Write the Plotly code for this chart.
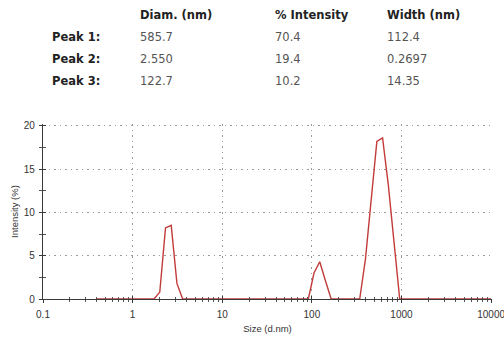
import plotly.graph_objects as go

# Size bins (d.nm) of the intensity distribution
sizes = [0.4, 0.4632, 0.5365, 0.6213, 0.7195, 0.8332, 0.9649, 1.117, 1.294, 1.499,
         1.736, 2.010, 2.328, 2.696, 3.122, 3.615, 4.187, 4.849, 5.615, 6.503,
         7.531, 8.721, 10.10, 11.70, 13.54, 15.69, 18.17, 21.04, 24.36, 28.21,
         32.67, 37.84, 43.82, 50.75, 58.77, 68.06, 78.82, 91.28, 105.7, 122.4,
         141.8, 164.2, 190.1, 220.2, 255.0, 295.3, 342.0, 396.1, 458.7, 531.2,
         615.1, 712.4, 825.0, 955.4, 1106, 1281, 1484, 1718, 1990, 2305,
         2669, 3091, 3580, 4145, 4801, 5560, 6439, 7456, 8635, 10000]

# Intensity (%) in each bin
intensity = [0, 0, 0, 0, 0, 0, 0, 0, 0, 0,
             0, 0.8, 8.2, 8.5, 1.8, 0, 0, 0, 0, 0,
             0, 0, 0, 0, 0, 0, 0, 0, 0, 0,
             0, 0, 0, 0, 0, 0, 0, 0, 3.0, 4.3,
             2.1, 0, 0, 0, 0, 0, 0, 4.6, 11.4, 18.2,
             18.6, 13.2, 6.6, 0, 0, 0, 0, 0, 0, 0,
             0, 0, 0, 0, 0, 0, 0, 0, 0, 0]

# Peak summary table
table_headers = ["Diam. (nm)", "% Intensity", "Width (nm)"]
peak_labels = ["Peak 1:", "Peak 2:", "Peak 3:"]
peak_diam = ["585.7", "2.550", "122.7"]
peak_intensity = ["70.4", "19.4", "10.2"]
peak_width = ["112.4", "0.2697", "14.35"]

x_ticks = [0.1, 1, 10, 100, 1000, 10000]
x_tick_text = ["0.1", "1", "10", "100", "1000", "10000"]
x_minor = [m * 10.0 ** e for e in range(-1, 4) for m in range(2, 10)]
y_ticks = [0, 5, 10, 15, 20]
y_minor = [2.5, 7.5, 12.5, 17.5]

W, H = 504, 338
L, R, T, B = 43, 12, 124, 39
PW, PH = W - L - R, H - T - B

AXIS_FONT = "Arial, Liberation Sans, sans-serif"
TABLE_FONT = "DejaVu Sans, Verdana, sans-serif"
LINE_RED = "#c23b3b"
GRID = "#9a9a9a"
GRID_DASH = "1.5px,4px"
AXIS_COL = "#3a3a3a"

X_RANGE = [-1, 4.01]
Y_RANGE = [0, 20.2]


def paper_x(px):
    return (px - L) / PW


def paper_y(py):
    return (H - B - py) / PH


fig = go.Figure()

fig.add_trace(go.Scatter(
    x=sizes, y=intensity, mode="lines",
    line=dict(color=LINE_RED, width=1.4),
    hoverinfo="x+y", showlegend=False,
))

# hidden trace that carries the inner half of the crossing tick marks
fig.add_trace(go.Scatter(
    x=[sizes[0]], y=[0], xaxis="x2", yaxis="y2", mode="markers",
    marker=dict(opacity=0), hoverinfo="skip", showlegend=False,
))

fig.update_layout(
    width=W, height=H,
    margin=dict(l=L, r=R, t=T, b=B),
    paper_bgcolor="white", plot_bgcolor="white",
    font=dict(family=AXIS_FONT, color="#333", size=10),
    xaxis=dict(
        type="log", range=X_RANGE, linecolor=AXIS_COL, linewidth=1.4,
        tickmode="array", tickvals=x_ticks, ticktext=x_tick_text,
        ticks="outside", ticklen=3, tickcolor=AXIS_COL, tickwidth=1,
        minor=dict(tickvals=x_minor, ticks="outside", ticklen=2, tickcolor="#555", showgrid=False),
        showgrid=True, gridcolor=GRID, griddash=GRID_DASH, gridwidth=1,
        zeroline=False, showline=True, automargin=False,
        tickfont=dict(size=10, color="#333"),
        ticklabelstandoff=3, ticklabeloverflow="allow",
        title=dict(text="Size (d.nm)", font=dict(size=9.5, color="#333"), standoff=6),
    ),
    yaxis=dict(
        range=Y_RANGE, linecolor=AXIS_COL, linewidth=1.4,
        tickmode="array", tickvals=y_ticks,
        ticks="outside", ticklen=3, tickcolor=AXIS_COL, tickwidth=1,
        minor=dict(tickvals=y_minor, ticks="outside", ticklen=3,
                   tickcolor="#555", showgrid=False),
        showgrid=True, gridcolor=GRID, griddash=GRID_DASH, gridwidth=1,
        zeroline=False, showline=True, automargin=False,
        tickfont=dict(size=10, color="#333"),
        ticklabelstandoff=2,
        title=dict(text="Intensity (%)", font=dict(size=9.5, color="#333"), standoff=3),
    ),
    xaxis2=dict(
        type="log", range=X_RANGE, overlaying="x", anchor="y2", automargin=False,
        tickmode="array", tickvals=x_ticks, ticks="inside", ticklen=3, tickcolor=AXIS_COL,
        minor=dict(tickvals=x_minor, ticks="inside", ticklen=2, tickcolor="#555", showgrid=False),
        showticklabels=False, showgrid=False, zeroline=False, showline=False,
    ),
    yaxis2=dict(
        range=Y_RANGE, overlaying="y", anchor="x2", side="left", automargin=False,
        tickmode="array", tickvals=y_ticks,
        ticks="inside", ticklen=3, tickcolor=AXIS_COL,
        minor=dict(tickvals=y_minor, ticks="inside", ticklen=3,
                   tickcolor="#555", showgrid=False),
        showticklabels=False, showgrid=False, zeroline=False, showline=False,
    ),
)

# Peak table above the plot
col_x = [138, 273, 385]
label_x = 50
header_y = 15
row_y = [37, 59, 81]

for cx, head in zip(col_x, table_headers):
    fig.add_annotation(
        x=paper_x(cx), y=paper_y(header_y), xref="paper", yref="paper",
        text="<b>" + head + "</b>", showarrow=False, xanchor="left", yanchor="middle",
        font=dict(family=TABLE_FONT, size=11.5, color="#222"),
    )

for ry, lab, d, pi, w in zip(row_y, peak_labels, peak_diam, peak_intensity, peak_width):
    fig.add_annotation(
        x=paper_x(label_x), y=paper_y(ry), xref="paper", yref="paper",
        text="<b>" + lab + "</b>", showarrow=False, xanchor="left", yanchor="middle",
        font=dict(family=TABLE_FONT, size=11.5, color="#222"),
    )
    for cx, val in zip(col_x, [d, pi, w]):
        fig.add_annotation(
            x=paper_x(cx), y=paper_y(ry), xref="paper", yref="paper",
            text=val, showarrow=False, xanchor="left", yanchor="middle",
            font=dict(family=TABLE_FONT, size=11.5, color="#555"),
        )

fig.write_html("out.html")
